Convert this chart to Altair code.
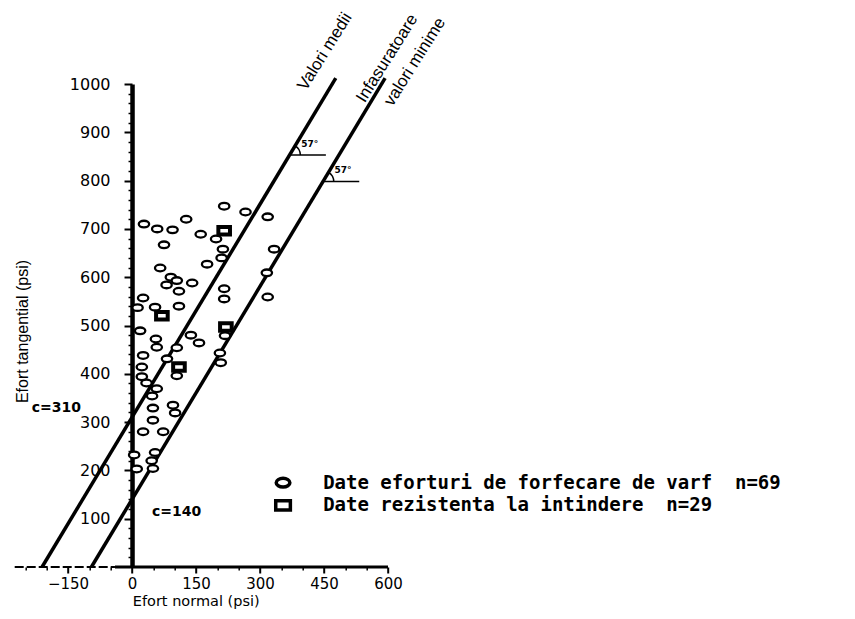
import altair as alt
import pandas as pd

# ---------------- axes ----------------
X_DOMAIN = [-275, 600]
Y_DOMAIN = [0, 1000]
x_major = [-150, 0, 150, 300, 450, 600]
x_minor = [-250, -200, -100, -50, 50, 100, 200, 250, 350, 400, 500, 550]
y_major = [100, 200, 300, 400, 500, 600, 700, 800, 900, 1000]
y_minor = [v for v in range(20, 1000, 20) if v % 100]

# ---------------- data ----------------
shear_x = [216, 266, 318, 127, 28, 59, 95, 161, 197, 75, 213, 333, 210, 176,
           66, 316, 91, 105, 81, 141, 110, 216, 216, 26, 318, 13, 54, 110,
           19, 138, 157, 56, 58, 105, 218, 206, 26, 82, 23, 208, 23, 34,
           105, 58, 47, 49, 96, 101, 49, 26, 73, 5, 54, 46, 11, 49]
shear_y = [747, 735, 725, 720, 710, 700, 698, 689, 679, 667, 658, 658, 640, 627,
           619, 609, 600, 593, 584, 588, 571, 576, 555, 557, 559, 537, 538, 540,
           489, 480, 464, 472, 455, 454, 479, 443, 438, 431, 414, 423, 394, 381,
           396, 369, 354, 329, 335, 319, 304, 280, 280, 232, 237, 220, 203, 204]
tensile_x = [216, 70, 220, 110]
tensile_y = [696, 520, 497, 414]

series_names = ["Date eforturi de forfecare de varf \u00a0n=69",
                "Date rezistenta la intindere \u00a0n=29"]
# legend anchor (data units): symbol column x, text column x, row y values
legend_sym_x = 354
legend_txt_x = 448
legend_row_y = [174.5, 127.5]

line_names = ["Valori medii", "Infasuratoare valori minime"]
line_c = [310, 140]
line_slope = 1.47
line_y_span = [0, 1012]

angle_y = [853, 798]
angle_text = "57°"
c_labels = ["c=310", "c=140"]
c_x = [-235, 47]
c_y = [329, 114]
line_text = ["Valori medii", "Infasuratoare", "valori minime"]
line_text_x = [452, 598, 663]
line_text_y = [1067, 1053, 1046]

x_axis_dashed = [-275, -40]
x_axis_solid = [-40, 600]

# ---------------- layout ----------------
W = 373.3
H = 483
PAD_L, PAD_T = 6.7, 76
TOTAL_W, TOTAL_H = 835, 603
Y_OFFSET = -(0 - X_DOMAIN[0]) / (X_DOMAIN[1] - X_DOMAIN[0]) * W

SANS = "Liberation Sans, Arial, sans-serif"

xs = alt.Scale(domain=X_DOMAIN, nice=False, zero=False)
ys = alt.Scale(domain=Y_DOMAIN, nice=False, zero=False)


def xq(field="x", axis=None):
    return alt.X(f"{field}:Q", scale=xs, axis=axis, title=None)


def yq(field="y", axis=None):
    return alt.Y(f"{field}:Q", scale=ys, axis=axis, title=None)


main_x_axis = alt.Axis(values=x_major, domain=False, grid=False, tickSize=6, tickWidth=2,
                       tickColor="black", labelFont="DejaVu Sans", labelFontSize=15,
                       labelColor="black", labelPadding=3, labelFlush=False,
                       labelOverlap=False, format="d", title="Efort normal (psi)",
                       titleFont="DejaVu Sans", titleFontSize=14.5, titleFontWeight="normal",
                       titleColor="black", titleX=181, titleY=34, titleAlign="center",
                       titleBaseline="middle")
main_y_axis = alt.Axis(values=y_major, offset=Y_OFFSET, domain=True, domainWidth=4.5,
                       domainColor="black", grid=False, tickSize=8, tickWidth=2,
                       tickColor="black", labelFont="DejaVu Sans", labelFontSize=16,
                       labelColor="black", labelPadding=14, labelFlush=False,
                       labelOverlap=False, format="d", title="Efort tangential (psi)",
                       titleFont=SANS, titleFontSize=16, titleFontWeight="normal",
                       titleColor="black", titleX=-110, titleY=247, titleAngle=270,
                       titleAlign="center", titleBaseline="middle")
minor_x_axis = alt.Axis(values=x_minor, orient="bottom", domain=False, grid=False,
                        labels=False, tickSize=3, tickWidth=1.5, tickColor="black")
minor_y_axis = alt.Axis(values=y_minor, orient="left", offset=Y_OFFSET, domain=False,
                        grid=False, labels=False, tickSize=4, tickWidth=1.5,
                        tickColor="black")

# x axis line (solid part) carries the main axes
df_solid = pd.DataFrame({"x": [x_axis_solid[0]], "x2": [x_axis_solid[1]], "y": [0]})
axis_solid = alt.Chart(df_solid).mark_rule(color="black", strokeWidth=3).encode(
    x=xq("x", main_x_axis), x2="x2:Q", y=yq("y", main_y_axis))

df_dash = pd.DataFrame({"x": [x_axis_dashed[0]], "x2": [x_axis_dashed[1]], "y": [0]})
axis_dash = alt.Chart(df_dash).mark_rule(color="black", strokeWidth=2,
                                         strokeDash=[9, 3]).encode(
    x=xq("x", minor_x_axis), x2="x2:Q", y=yq("y", minor_y_axis))

# strength envelope lines
rows = []
for name, c in zip(line_names, line_c):
    for i, yv in enumerate(line_y_span):
        rows.append({"name": name, "x": (yv - c) / line_slope, "y": yv, "o": i})
df_lines = pd.DataFrame(rows)
lines = alt.Chart(df_lines).mark_line(color="black", strokeWidth=3.5).encode(
    x=xq(), y=yq(), detail="name:N", order="o:Q")

# angle markers
df_ang = pd.DataFrame({
    "x": [(yv - c) / line_slope for yv, c in zip(angle_y, line_c)],
    "y": angle_y,
})
df_ang["x2"] = df_ang["x"] + 85
df_ang["tx"] = df_ang["x"] + 47
df_ang["ty"] = df_ang["y"] + 23
df_ang["t"] = angle_text
ang_rules = alt.Chart(df_ang).mark_rule(color="black", strokeWidth=1.5).encode(
    x=xq(), x2="x2:Q", y=yq())
ang_arcs = alt.Chart(df_ang).mark_arc(innerRadius=10, outerRadius=11.5, theta=0.541,
                                      theta2=1.571, color="black").encode(
    x=xq(), y=yq())
ang_text = alt.Chart(df_ang).mark_text(font="DejaVu Sans", fontWeight="bold", fontSize=9,
                                       color="black").encode(
    x=xq("tx"), y=yq("ty"), text="t:N")

# data points
ellipse = "M-0.7,0A0.7,0.45 0 1,0 0.7,0A0.7,0.45 0 1,0 -0.7,0Z"
rsquare = "M-0.75,-0.48H0.75V0.48H-0.75Z"
shape_scale = alt.Scale(domain=series_names, range=[ellipse, rsquare])

df_shear = pd.DataFrame({"x": shear_x, "y": shear_y, "s": series_names[0]})
df_tens = pd.DataFrame({"x": tensile_x, "y": tensile_y, "s": series_names[1]})
pts_shear = alt.Chart(df_shear).mark_point(filled=False, fill="white", stroke="black",
                                           strokeWidth=2.3, size=220, opacity=1).encode(
    x=xq(), y=yq(), shape=alt.Shape("s:N", scale=shape_scale, legend=None))
pts_tens = alt.Chart(df_tens).mark_point(filled=False, fill="white", stroke="black",
                                         strokeWidth=4, size=240, opacity=1).encode(
    x=xq(), y=yq(), shape=alt.Shape("s:N", scale=shape_scale, legend=None))

# legend (symbols + labels)
df_leg = pd.DataFrame({"x": [legend_sym_x] * 2, "tx": [legend_txt_x] * 2,
                       "y": legend_row_y, "s": series_names})
leg_sym = alt.Chart(df_leg).mark_point(filled=False, fill="white", stroke="black",
                                       strokeWidth=3.5, size=380, opacity=1).encode(
    x=xq(), y=yq(), shape=alt.Shape("s:N", scale=shape_scale, legend=None))
leg_txt = alt.Chart(df_leg).mark_text(align="left", baseline="middle",
                                      font="DejaVu Sans Mono", fontWeight="bold",
                                      fontSize=19, color="black").encode(
    x=xq("tx"), y=yq(), text="s:N")

# annotations
df_c = pd.DataFrame({"x": c_x, "y": c_y, "t": c_labels})
c_text = alt.Chart(df_c).mark_text(align="left", baseline="middle", font="DejaVu Sans",
                                   fontWeight="bold", fontSize=14, color="black").encode(
    x=xq(), y=yq(), text="t:N")

df_lt = pd.DataFrame({"x": line_text_x, "y": line_text_y, "t": line_text})
line_labels = alt.Chart(df_lt).mark_text(align="center", baseline="middle", angle=302,
                                         font=SANS, fontSize=17, color="black").encode(
    x=xq(), y=yq(), text="t:N")

chart = alt.layer(
    axis_solid, axis_dash, lines, ang_rules, ang_arcs, ang_text,
    pts_shear, pts_tens, leg_sym, leg_txt, c_text, line_labels
).resolve_axis(x="independent", y="independent").properties(
    width=W, height=H,
    padding={"left": PAD_L, "top": PAD_T,
             "right": TOTAL_W - PAD_L - W, "bottom": TOTAL_H - PAD_T - H},
    autosize="none",
).configure_view(stroke=None)

chart.save("out.html", embed_options={"renderer": "svg", "actions": False})
